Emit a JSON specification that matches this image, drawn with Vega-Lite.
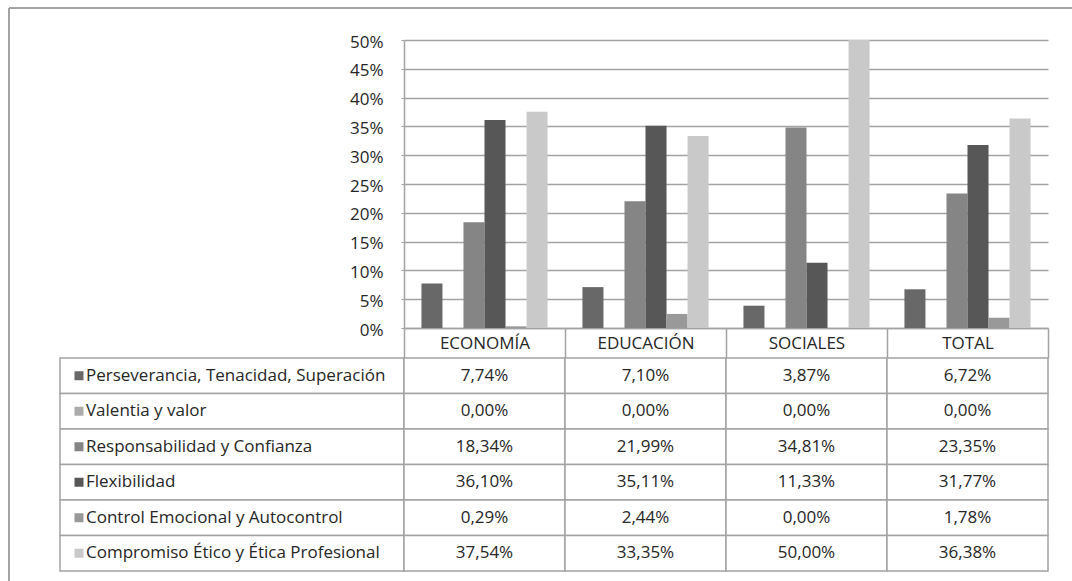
{
  "$schema": "https://vega.github.io/schema/vega-lite/v6.json",
  "padding": {"left": 8, "top": 6, "right": 0, "bottom": 0},
  "background": "white",
  "config": {
    "locale": {"number": {"decimal": ",", "thousands": ".", "grouping": [3], "currency": ["", " €"]}},
    "view": {"stroke": null},
    "font": "Open Sans",
    "text": {"font": "Open Sans", "fontSize": 17, "color": "#262626"}
  },
  "datasets": {
    "d": [
      {"group": "ECONOMÍA", "serie": "Perseverancia, Tenacidad, Superación", "value": 0.0774},
      {"group": "ECONOMÍA", "serie": "Valentia y valor", "value": 0},
      {"group": "ECONOMÍA", "serie": "Responsabilidad y Confianza", "value": 0.1834},
      {"group": "ECONOMÍA", "serie": "Flexibilidad", "value": 0.3610},
      {"group": "ECONOMÍA", "serie": "Control Emocional y Autocontrol", "value": 0.0029},
      {"group": "ECONOMÍA", "serie": "Compromiso Ético y Ética Profesional", "value": 0.3754},
      {"group": "EDUCACIÓN", "serie": "Perseverancia, Tenacidad, Superación", "value": 0.0710},
      {"group": "EDUCACIÓN", "serie": "Valentia y valor", "value": 0},
      {"group": "EDUCACIÓN", "serie": "Responsabilidad y Confianza", "value": 0.2199},
      {"group": "EDUCACIÓN", "serie": "Flexibilidad", "value": 0.3511},
      {"group": "EDUCACIÓN", "serie": "Control Emocional y Autocontrol", "value": 0.0244},
      {"group": "EDUCACIÓN", "serie": "Compromiso Ético y Ética Profesional", "value": 0.3335},
      {"group": "SOCIALES", "serie": "Perseverancia, Tenacidad, Superación", "value": 0.0387},
      {"group": "SOCIALES", "serie": "Valentia y valor", "value": 0},
      {"group": "SOCIALES", "serie": "Responsabilidad y Confianza", "value": 0.3481},
      {"group": "SOCIALES", "serie": "Flexibilidad", "value": 0.1133},
      {"group": "SOCIALES", "serie": "Control Emocional y Autocontrol", "value": 0},
      {"group": "SOCIALES", "serie": "Compromiso Ético y Ética Profesional", "value": 0.5000},
      {"group": "TOTAL", "serie": "Perseverancia, Tenacidad, Superación", "value": 0.0672},
      {"group": "TOTAL", "serie": "Valentia y valor", "value": 0},
      {"group": "TOTAL", "serie": "Responsabilidad y Confianza", "value": 0.2335},
      {"group": "TOTAL", "serie": "Flexibilidad", "value": 0.3177},
      {"group": "TOTAL", "serie": "Control Emocional y Autocontrol", "value": 0.0178},
      {"group": "TOTAL", "serie": "Compromiso Ético y Ética Profesional", "value": 0.3638}
    ]
  },
  "columns": 2,
  "spacing": 0,
  "bounds": "flush",
  "concat": [
    {
      "width": 395,
      "height": 288,
      "data": {"values": [{}]},
      "layer": [
        {
          "mark": {"type": "rule", "color": "#a3a3a3", "strokeWidth": 2},
          "encoding": {
            "x": {"datum": 0, "type": "quantitative", "scale": {"domain": [0, 1], "nice": false, "zero": false}, "axis": null},
            "y": {"datum": 0.5556, "type": "quantitative", "scale": {"domain": [0, 0.5], "nice": false}, "axis": null},
            "y2": {"datum": -0.4410}
          }
        },
        {
          "mark": {"type": "rule", "color": "#a3a3a3", "strokeWidth": 2},
          "encoding": {
            "x": {"datum": 0, "type": "quantitative"},
            "x2": {"datum": 2.70},
            "y": {"datum": 0.5556, "type": "quantitative"}
          }
        }
      ]
    },
    {
      "width": 644,
      "height": 288,
      "data": {"name": "d"},
      "mark": {"type": "bar"},
      "encoding": {
        "x": {
          "field": "group", "type": "nominal",
          "scale": {"domain": ["ECONOMÍA", "EDUCACIÓN", "SOCIALES", "TOTAL"], "paddingInner": 0, "paddingOuter": 0},
          "axis": {
            "title": null, "orient": "bottom", "labelAngle": 0,
            "domainColor": "#a3a3a3", "domainWidth": 1.5,
            "tickColor": "#a3a3a3", "tickWidth": 1.5, "tickSize": 30, "tickBand": "extent",
            "labelPadding": -15, "labelBaseline": "middle",
            "labelFont": "Open Sans", "labelFontSize": 17, "labelColor": "#262626"
          }
        },
        "xOffset": {
          "field": "serie", "type": "nominal",
          "scale": {"domain": ["Perseverancia, Tenacidad, Superación", "Valentia y valor", "Responsabilidad y Confianza", "Flexibilidad", "Control Emocional y Autocontrol", "Compromiso Ético y Ética Profesional"], "paddingInner": 0, "paddingOuter": 0.83}
        },
        "y": {
          "field": "value", "type": "quantitative",
          "scale": {"domain": [0, 0.5], "nice": false},
          "axis": {
            "title": null, "values": [0, 0.05, 0.1, 0.15, 0.2, 0.25, 0.3, 0.35, 0.4, 0.45, 0.5],
            "format": ".0%", "grid": true, "gridColor": "#a3a3a3", "gridWidth": 1.5,
            "domainColor": "#a3a3a3", "domainWidth": 1.5,
            "tickColor": "#a3a3a3", "tickSize": 3, "labelPadding": 18,
            "labelFont": "Open Sans", "labelFontSize": 17, "labelColor": "#262626", "labelOffset": 2
          }
        },
        "color": {
          "field": "serie", "type": "nominal", "legend": null,
          "scale": {
            "domain": ["Perseverancia, Tenacidad, Superación", "Valentia y valor", "Responsabilidad y Confianza", "Flexibilidad", "Control Emocional y Autocontrol", "Compromiso Ético y Ética Profesional"],
            "range": ["#686868", "#ababab", "#858585", "#575757", "#999999", "#c9c9c9"]
          }
        }
      }
    },
    {
      "width": 395,
      "height": 254,
      "data": {"name": "d"},
      "transform": [{"filter": "datum.group === 'TOTAL'"}],
      "encoding": {
        "y": {
          "field": "serie", "type": "nominal", "axis": null,
          "scale": {"domain": ["Perseverancia, Tenacidad, Superación", "Valentia y valor", "Responsabilidad y Confianza", "Flexibilidad", "Control Emocional y Autocontrol", "Compromiso Ético y Ética Profesional"], "paddingInner": 0, "paddingOuter": 0.5775, "align": 0.7317, "round": false}
        }
      },
      "layer": [
        {
          "mark": {"type": "rect", "fill": "white", "stroke": "#a3a3a3", "strokeWidth": 1.5},
          "encoding": {
            "x": {"datum": 0.1291, "type": "quantitative", "scale": {"domain": [0, 1], "nice": false, "zero": false}, "axis": null},
            "x2": {"datum": 1}
          }
        },
        {
          "mark": {"type": "point", "shape": "square", "filled": true, "size": 81, "opacity": 1},
          "encoding": {
            "x": {"datum": 0.1772, "type": "quantitative"},
            "color": {"field": "serie", "type": "nominal", "legend": null}
          }
        },
        {
          "mark": {"type": "text", "align": "left", "baseline": "middle"},
          "encoding": {
            "x": {"datum": 0.1949, "type": "quantitative"},
            "text": {"field": "serie"}
          }
        }
      ]
    },
    {
      "width": 644,
      "height": 254,
      "data": {"name": "d"},
      "encoding": {
        "x": {
          "field": "group", "type": "nominal", "axis": null,
          "scale": {"domain": ["ECONOMÍA", "EDUCACIÓN", "SOCIALES", "TOTAL"], "paddingInner": 0, "paddingOuter": 0}
        },
        "y": {
          "field": "serie", "type": "nominal", "axis": null,
          "scale": {"domain": ["Perseverancia, Tenacidad, Superación", "Valentia y valor", "Responsabilidad y Confianza", "Flexibilidad", "Control Emocional y Autocontrol", "Compromiso Ético y Ética Profesional"], "paddingInner": 0, "paddingOuter": 0.5775, "align": 0.7317, "round": false}
        }
      },
      "layer": [
        {"mark": {"type": "rect", "fill": "white", "stroke": "#a3a3a3", "strokeWidth": 1.5}},
        {
          "mark": {"type": "text", "align": "center", "baseline": "middle"},
          "encoding": {"text": {"field": "value", "type": "quantitative", "format": ".2%"}}
        }
      ]
    }
  ]
}
